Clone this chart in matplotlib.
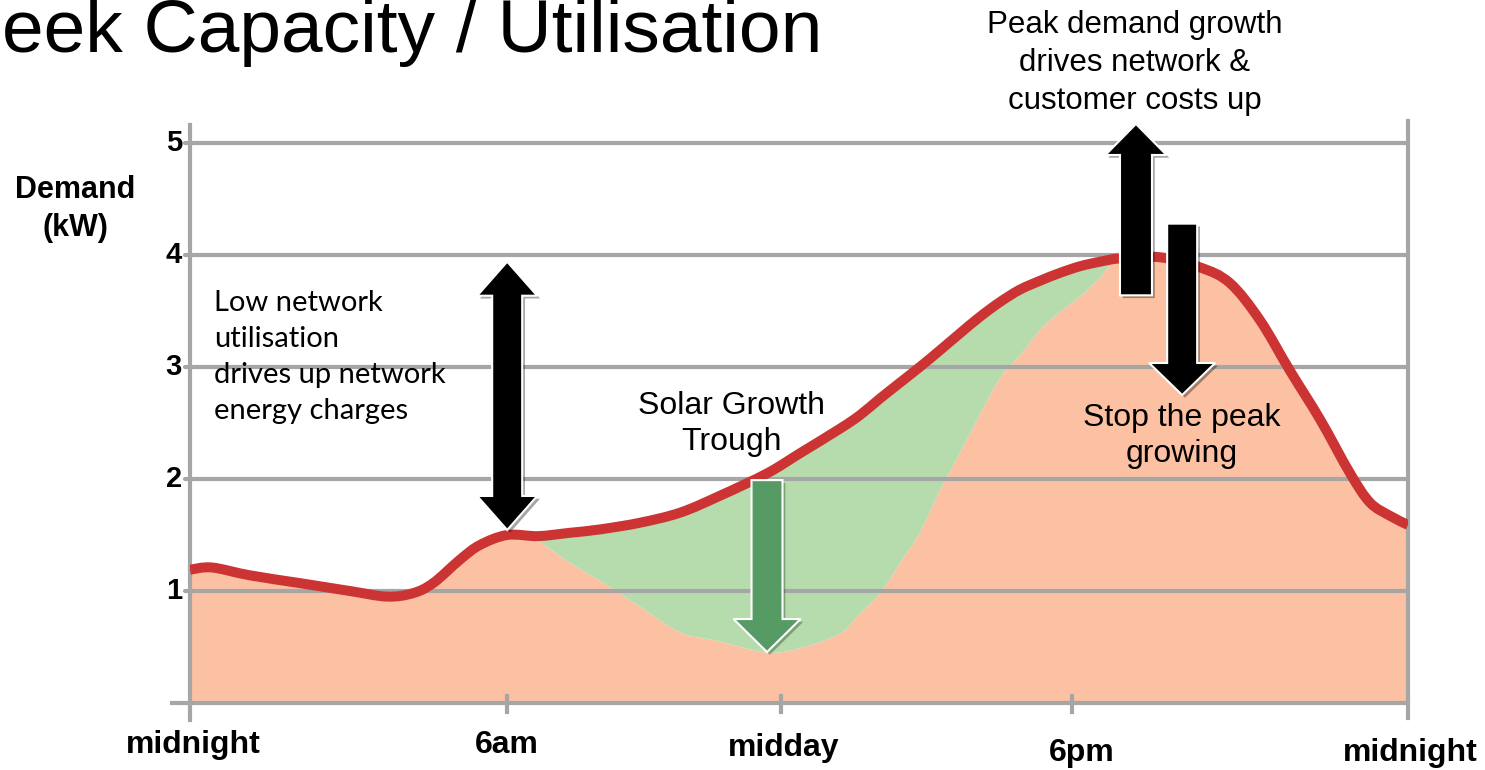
import matplotlib
matplotlib.use("Agg")
import numpy as np
import matplotlib.pyplot as plt
import matplotlib.patheffects as pe
from matplotlib.patches import Polygon, PathPatch
from matplotlib.path import Path

# ------------------------------- data ---------------------------------- #
hours = [0.0, 0.43, 1.18, 2.17, 3.15, 3.88, 4.39, 4.79, 5.32, 5.71, 6.25,
         6.86, 7.49, 8.08, 8.87, 9.66, 10.44, 11.37, 12.02, 12.81, 13.20,
         13.60, 13.99, 14.38, 14.78, 15.17, 15.57, 15.96, 16.35, 16.75,
         17.14, 17.54, 17.93, 18.33, 19.11, 19.90, 20.49, 21.08, 21.67,
         22.27, 22.86, 23.25, 23.65, 24.0]
# total household demand (red line)
demand_kw = [1.19, 1.21, 1.14, 1.07, 1.00, 0.95, 0.98, 1.07, 1.28, 1.41, 1.50,
             1.49, 1.52, 1.55, 1.61, 1.70, 1.85, 2.05, 2.23, 2.45, 2.57,
             2.72, 2.86, 3.00, 3.15, 3.30, 3.45, 3.58, 3.69, 3.77,
             3.84, 3.90, 3.94, 3.97, 3.98, 3.89, 3.75, 3.42, 2.97,
             2.53, 2.05, 1.79, 1.67, 1.59]
# demand left on the network once solar is taken off (orange area)
net_kw = [1.19, 1.21, 1.14, 1.07, 1.00, 0.95, 0.98, 1.07, 1.28, 1.41, 1.50,
          1.44, 1.25, 1.09, 0.86, 0.63, 0.55, 0.45, 0.49, 0.62, 0.80,
          0.98, 1.25, 1.52, 1.90, 2.23, 2.58, 2.90, 3.10, 3.33,
          3.49, 3.63, 3.80, 3.97, 3.98, 3.89, 3.75, 3.42, 2.97,
          2.53, 2.05, 1.79, 1.67, 1.59]

y_ticks = [1, 2, 3, 4, 5]
x_tick_pos = [0, 6.25, 11.65, 17.37, 24]
x_tick_labels = ["midnight", "6am", "midday", "6pm", "midnight"]

RED = "#cc3434"
ORANGE = "#fcc1a2"
GREEN_FILL = "#b6dcae"
GREEN_ARROW = "#569b63"
GRID = "#a6a6a6"

W, H = 1485, 770
fig = plt.figure(figsize=(W / 100, H / 100), dpi=100)
ax = fig.add_axes([190 / W, 1 - 703 / H, 1218 / W, 560 / H])
ax.set_xlim(0, 24)
ax.set_ylim(0, 5)
ax.axis("off")

PX_X = 24 / 1218   # hours per pixel
PX_Y = 5 / 560     # kW per pixel


def smooth(xs, ys):
    """Bezier (CURVE4) segments through the points, like a smoothed line."""
    p = np.column_stack([xs, ys]).astype(float)
    n = len(p)
    verts, codes = [p[0]], [Path.MOVETO]
    for i in range(n - 1):
        p0, p1 = p[max(i - 1, 0)], p[i]
        p2, p3 = p[i + 1], p[min(i + 2, n - 1)]
        verts += [p1 + (p2 - p0) / 6, p2 - (p3 - p1) / 6, p2]
        codes += [Path.CURVE4] * 3
    return verts, codes


# orange area: net demand down to zero
v, c = smooth(hours, net_kw)
v += [(hours[-1], 0), (hours[0], 0), (0, 0)]
c += [Path.LINETO, Path.LINETO, Path.CLOSEPOLY]
ax.add_patch(PathPatch(Path(v, c), facecolor=ORANGE, lw=0, zorder=1))

# green area: between demand and net demand
v1, c1 = smooth(hours, demand_kw)
v2, c2 = smooth(hours[::-1], net_kw[::-1])
c2[0] = Path.LINETO
ax.add_patch(PathPatch(Path(v1 + v2 + [(0, 0)], c1 + c2 + [Path.CLOSEPOLY]),
                       facecolor=GREEN_FILL, lw=0, zorder=1))

# grid + frame
for val in y_ticks:
    ax.plot([-5 * PX_X, 24], [val, val], color=GRID, lw=3, solid_capstyle="round",
            zorder=2, clip_on=False)
ax.plot([-18 * PX_X, 24], [0, 0], color=GRID, lw=3, zorder=2, clip_on=False)
ax.plot([0, 0], [-17 * PX_Y, 5 + 18 * PX_Y], color=GRID, lw=3, zorder=2, clip_on=False)
ax.plot([24, 24], [-15 * PX_Y, 5 + 22 * PX_Y], color=GRID, lw=3, zorder=2, clip_on=False)
for x in x_tick_pos[1:-1]:
    ax.plot([x, x], [-9 * PX_Y, 7 * PX_Y], color=GRID, lw=3, zorder=2, clip_on=False)

# demand line
v, c = smooth(hours, demand_kw)
ax.add_patch(PathPatch(Path(v, c), fill=False, edgecolor=RED, lw=7.2,
                       capstyle="butt", joinstyle="round", zorder=3))

# tick labels
for val in y_ticks:
    ax.text(-8 * PX_X, val, str(val), ha="right", va="center", fontsize=21,
            fontweight="bold", family="Liberation Sans")
x_label_drop = [42, 42, 45, 50, 50]   # px below the axis
x_label_shift = [3, 0, 2, 10, 2]      # px to the right of the tick
for x, lab, d, s in zip(x_tick_pos, x_tick_labels, x_label_drop, x_label_shift):
    ax.text(x + s * PX_X, -d * PX_Y, lab, ha="center", va="center", fontsize=23,
            fontweight="bold", family="Liberation Sans", clip_on=False)


def block_arrow(xc, y_tail, y_tip, shaft, head, head_len, color, double=False):
    """Flat block arrow; widths are given in pixels."""
    s, h = shaft / 2 * PX_X, head / 2 * PX_X
    sgn = 1 if y_tip > y_tail else -1
    hl = head_len * PX_Y * sgn
    pts = [(xc - s, y_tail), (xc - s, y_tip - hl), (xc - h, y_tip - hl),
           (xc, y_tip), (xc + h, y_tip - hl), (xc + s, y_tip - hl), (xc + s, y_tail)]
    if double:
        pts = pts[1:6] + [(xc + s, y_tail + hl), (xc + h, y_tail + hl), (xc, y_tail),
                          (xc - h, y_tail + hl), (xc - s, y_tail + hl)]
    poly = Polygon(pts, closed=True, facecolor=color, edgecolor="white", lw=1.5,
                   zorder=4, clip_on=False)
    poly.set_path_effects([pe.SimplePatchShadow(offset=(2, -2), alpha=0.35), pe.Normal()])
    ax.add_patch(poly)


block_arrow(6.25, 1.545, 3.94, 30, 60, 34, "black", double=True)
block_arrow(18.64, 3.64, 5.17, 32, 61, 31, "black")
block_arrow(19.55, 4.28, 2.75, 30, 66, 32, "black")
block_arrow(11.37, 1.99, 0.455, 31, 67, 33, GREEN_ARROW)


# texts (figure pixel positions)
def ftext(x, y, s, **kw):
    fig.text(x / W, 1 - y / H, s, **kw)


ftext(2, 52, "eek Capacity / Utilisation", ha="left", va="baseline",
      fontsize=54, family="Liberation Sans")
ftext(75, 209, "Demand\n(kW)", ha="center", va="center", fontsize=22,
      fontweight="bold", family="Liberation Sans", linespacing=1.32)
ftext(214, 357, "Low network\nutilisation\ndrives up network\nenergy charges",
      ha="left", va="center", fontsize=21, family="Lato", linespacing=1.47)
ftext(731, 424, "Solar Growth\nTrough", ha="center", va="center", fontsize=23,
      family="Liberation Sans", linespacing=1.26)
ftext(1182, 436, "Stop the peak\ngrowing", ha="center", va="center", fontsize=23,
      family="Liberation Sans", linespacing=1.26)
ftext(1135, 63, "Peak demand growth\ndrives network &\ncustomer costs up",
      ha="center", va="center", fontsize=22.5, family="Liberation Sans",
      linespacing=1.33)

fig.savefig("out.png", dpi=100)
